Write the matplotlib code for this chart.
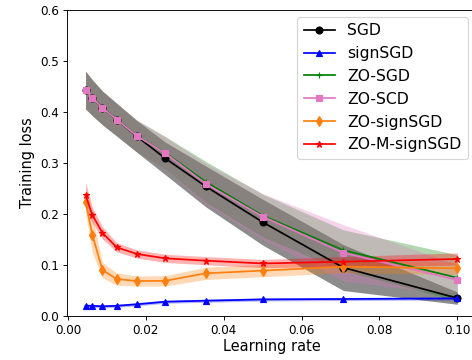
import matplotlib
matplotlib.use("Agg")
import matplotlib.pyplot as plt
import numpy as np

learning_rates = [0.0045, 0.00625, 0.00884, 0.0125, 0.0177, 0.025, 0.0354, 0.05, 0.0707, 0.1]

sgd_mean = [0.443, 0.428, 0.408, 0.385, 0.352, 0.309, 0.254, 0.184, 0.095, 0.035]
sgd_std = [0.037, 0.035, 0.033, 0.032, 0.031, 0.032, 0.040, 0.045, 0.045, 0.012]

signsgd_mean = [0.020, 0.020, 0.019, 0.020, 0.023, 0.028, 0.030, 0.0325, 0.0333, 0.0345]
signsgd_std = [0.003, 0.003, 0.003, 0.003, 0.003, 0.003, 0.003, 0.003, 0.003, 0.003]

zosgd_mean = [0.443, 0.428, 0.408, 0.385, 0.353, 0.320, 0.263, 0.197, 0.129, 0.075]
zosgd_std = [0.037, 0.035, 0.033, 0.032, 0.031, 0.032, 0.040, 0.042, 0.040, 0.045]

zoscd_mean = [0.443, 0.428, 0.408, 0.385, 0.353, 0.319, 0.259, 0.195, 0.124, 0.0706]
zoscd_std = [0.037, 0.035, 0.033, 0.032, 0.031, 0.032, 0.040, 0.045, 0.055, 0.030]

zosign_mean = [0.224, 0.159, 0.090, 0.0725, 0.0686, 0.069, 0.0837, 0.089, 0.0967, 0.0935]
zosign_std = [0.020, 0.035, 0.015, 0.012, 0.010, 0.010, 0.012, 0.012, 0.012, 0.012]

zomsign_mean = [0.237, 0.198, 0.163, 0.1347, 0.1216, 0.113, 0.1085, 0.103, 0.1065, 0.1118]
zomsign_std = [0.025, 0.015, 0.012, 0.009, 0.008, 0.008, 0.008, 0.008, 0.010, 0.012]

series = [
    ("SGD", sgd_mean, sgd_std, "k", "o", 0.45),
    ("signSGD", signsgd_mean, signsgd_std, "b", "^", 0.3),
    ("ZO-SGD", zosgd_mean, zosgd_std, "g", "+", 0.3),
    ("ZO-SCD", zoscd_mean, zoscd_std, "#e377c2", "s", 0.3),
    ("ZO-signSGD", zosign_mean, zosign_std, "#ff7f0e", "d", 0.3),
    ("ZO-M-signSGD", zomsign_mean, zomsign_std, "r", "*", 0.3),
]

dpi = 83
fig = plt.figure(figsize=(472 / dpi, 360 / dpi), dpi=dpi)
ax = fig.add_axes([66.7 / 472, 44 / 360, (478 - 66.7) / 472, 306 / 360])

x = np.array(learning_rates)
for name, m, s, c, mk, a in series:
    m = np.array(m)
    s = np.array(s)
    ax.plot(x, m, color=c, marker=mk, label=name, markersize=6)
    ax.fill_between(x, m - s, m + s, color=c, alpha=a, linewidth=0)

ax.set_xlim(-0.00034, 0.1053)
ax.set_ylim(0, 0.6)
ax.set_xticks([0.0, 0.02, 0.04, 0.06, 0.08, 0.10])
ax.set_xticklabels(["0.00", "0.02", "0.04", "0.06", "0.08", "0.10"])
ax.set_yticks([0.0, 0.1, 0.2, 0.3, 0.4, 0.5, 0.6])
ax.tick_params(labelsize=10.4)
ax.set_xlabel("Learning rate", fontsize=12.6, labelpad=2)
ax.set_ylabel("Training loss", fontsize=12.6)

ax.legend(loc="upper right", bbox_to_anchor=(468 / 472, 1 - 17 / 360),
          bbox_transform=fig.transFigure, borderaxespad=0, fontsize=13.6)

fig.savefig("out.png", dpi=dpi)
